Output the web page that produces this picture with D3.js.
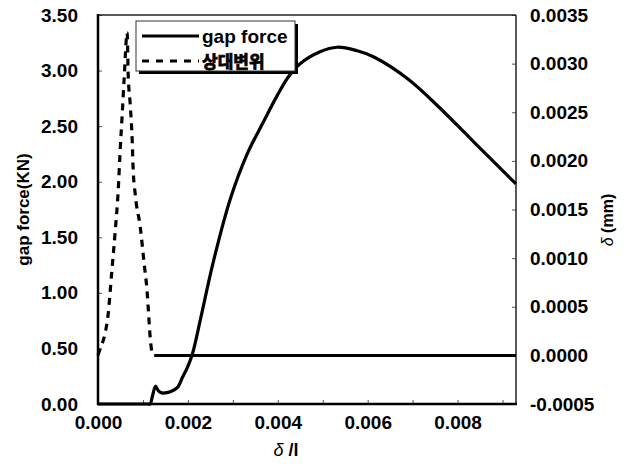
<!DOCTYPE html>
<html>
<head>
<meta charset="utf-8">
<script src="https://cdn.jsdelivr.net/npm/d3@7/dist/d3.min.js"></script>
<style>
  body { margin: 0; background: #fff; }
  text { font-family: "Liberation Sans", Arial, sans-serif; font-weight: bold; fill: #000; }
</style>
</head>
<body>
<div id="chart"></div>
<script>
chartWidth = 630;
chartHeight = 464;
margin = {left: 98, right: 114, top: 15, bottom: 60};

// gap force (left axis, KN)
gapX = [0, 0.0005, 0.00110, 0.00116, 0.00121, 0.00128, 0.00134, 0.00142, 0.00150, 0.00161, 0.00177, 0.00188, 0.00199, 0.00210,
        0.00230, 0.00256, 0.00294, 0.00332, 0.00367, 0.00398, 0.00423, 0.00449, 0.00494, 0.00532, 0.00575,
        0.00615, 0.00691, 0.00764, 0.00838, 0.0093];
gapY = [0, 0, 0, 0, 0.07, 0.16, 0.12, 0.10, 0.10, 0.11, 0.15, 0.24, 0.33, 0.45,
        0.80, 1.27, 1.84, 2.25, 2.53, 2.77, 2.94, 3.06, 3.17, 3.21, 3.18,
        3.12, 2.92, 2.65, 2.35, 1.98];

// relative displacement (right axis, mm)
relX = [0, 0.00004, 0.00016, 0.00022, 0.00031, 0.00038, 0.00045, 0.00049, 0.00054, 0.00058, 0.00065,
        0.00067, 0.00072, 0.00076, 0.00078, 0.00083, 0.00094, 0.00103, 0.00109, 0.00112, 0.00116, 0.00121,
        0.00125, 0.0093];
relY = [0, 0.00006, 0.00023, 0.00040, 0.00088, 0.00126, 0.00170, 0.00208, 0.00249, 0.00283, 0.00332,
        0.00291, 0.00256, 0.00222, 0.00194, 0.00165, 0.00132, 0.00093, 0.00067, 0.00047, 0.00019, 0.00002,
        0, 0];

xTicks = [0, 0.002, 0.004, 0.006, 0.008];
xTickLabels = ["0.000", "0.002", "0.004", "0.006", "0.008"];
xMinorTicks = [0.001, 0.002, 0.003, 0.004, 0.005, 0.006, 0.007, 0.008, 0.009];
leftTicks = [0, 0.5, 1, 1.5, 2, 2.5, 3, 3.5];
leftTickLabels = ["0.00", "0.50", "1.00", "1.50", "2.00", "2.50", "3.00", "3.50"];
rightTicks = [-0.0005, 0, 0.0005, 0.001, 0.0015, 0.002, 0.0025, 0.003, 0.0035];
rightTickLabels = ["-0.0005", "0.0000", "0.0005", "0.0010", "0.0015", "0.0020", "0.0025", "0.0030", "0.0035"];
seriesNames = ["gap force", "상대변위"];

var svg = d3.select("#chart").append("svg")
    .attr("width", chartWidth)
    .attr("height", chartHeight);

var x0 = margin.left, x1 = chartWidth - margin.right;
var y0 = chartHeight - margin.bottom, y1 = margin.top;

var xScale = d3.scaleLinear().domain([0, 0.0093]).range([x0, x1]);
var yLeft = d3.scaleLinear().domain([0, 3.5]).range([y0, y1]);
var yRight = d3.scaleLinear().domain([-0.0005, 0.0035]).range([y0, y1]);

// axes
var xAxis = d3.axisBottom(xScale)
    .tickValues(xTicks)
    .tickFormat(function(d, i) { return xTickLabels[i]; })
    .tickSize(0)
    .tickPadding(12);
var xMinor = d3.axisTop(xScale).tickValues(xMinorTicks).tickSize(4).tickFormat("");
var leftAxis = d3.axisLeft(yLeft)
    .tickValues(leftTicks)
    .tickFormat(function(d, i) { return leftTickLabels[i]; })
    .tickSizeInner(-4).tickSizeOuter(0)
    .tickPadding(20);
var rightAxis = d3.axisRight(yRight)
    .tickValues(rightTicks)
    .tickFormat(function(d, i) { return rightTickLabels[i]; })
    .tickSizeInner(-4).tickSizeOuter(0)
    .tickPadding(14);

var gx = svg.append("g").attr("transform", "translate(0," + y0 + ")").call(xAxis);
var gxm = svg.append("g").attr("transform", "translate(0," + y0 + ")").call(xMinor);
var gl = svg.append("g").attr("transform", "translate(" + x0 + ",0)").call(leftAxis);
var gr = svg.append("g").attr("transform", "translate(" + x1 + ",0)").call(rightAxis);

[gx, gxm, gl, gr].forEach(function(g) {
    g.select(".domain").remove();
    g.selectAll(".tick line").attr("stroke", "#555").attr("stroke-width", 1);
    g.selectAll(".tick text").style("font-size", "19px").style("font-family", "Liberation Sans, Arial, sans-serif")
        .style("font-weight", "bold").attr("fill", "#000");
});
gx.selectAll(".tick text").attr("dy", "0.71em");

// frame
svg.append("line").attr("x1", x0).attr("x2", x1).attr("y1", y1).attr("y2", y1)
    .attr("stroke", "#222").attr("stroke-width", 1.5);
svg.append("line").attr("x1", x1).attr("x2", x1).attr("y1", y1).attr("y2", y0)
    .attr("stroke", "#222").attr("stroke-width", 1.5);

// series
var gapData = gapX.map(function(d, i) { return [d, gapY[i]]; });
var relData = relX.map(function(d, i) { return [d, relY[i]]; });
var cut = relY.indexOf(0, 1);
var relPeak = relData.slice(0, cut + 1);
var relTail = relData.slice(cut);

var gapLine = d3.line()
    .x(function(d) { return xScale(d[0]); })
    .y(function(d) { return yLeft(d[1]); })
    .curve(d3.curveCatmullRom.alpha(0.5));
var relLine = d3.line()
    .x(function(d) { return xScale(d[0]); })
    .y(function(d) { return yRight(d[1]); })
    .curve(d3.curveMonotoneX);

svg.append("path").datum(relPeak).attr("d", relLine)
    .attr("fill", "none").attr("stroke", "#000").attr("stroke-width", 3.2)
    .attr("stroke-dasharray", "7,6");
svg.append("path").datum(relTail).attr("d", relLine)
    .attr("fill", "none").attr("stroke", "#000").attr("stroke-width", 3);
svg.append("path").datum(gapData).attr("d", gapLine)
    .attr("fill", "none").attr("stroke", "#000").attr("stroke-width", 3.2);

// left and bottom axis lines drawn over the curves
svg.append("line").attr("x1", x0).attr("x2", x0).attr("y1", y1 - 1).attr("y2", y0 + 1)
    .attr("stroke", "#000").attr("stroke-width", 2.5);
svg.append("line").attr("x1", x0 - 1).attr("x2", x1 + 1).attr("y1", y0).attr("y2", y0)
    .attr("stroke", "#000").attr("stroke-width", 2.5);

// legend
var legend = svg.append("g").attr("transform", "translate(136,21)");
legend.append("rect").attr("x", 3).attr("y", 3).attr("width", 159).attr("height", 50).attr("fill", "#000");
legend.append("rect").attr("x", 0).attr("y", 0).attr("width", 159).attr("height", 50)
    .attr("fill", "#fff").attr("stroke", "#333").attr("stroke-width", 1);
legend.append("line").attr("x1", 6).attr("x2", 63).attr("y1", 15).attr("y2", 15)
    .attr("stroke", "#000").attr("stroke-width", 3);
legend.append("line").attr("x1", 6).attr("x2", 63).attr("y1", 40).attr("y2", 40)
    .attr("stroke", "#000").attr("stroke-width", 3).attr("stroke-dasharray", "7,7");
legend.append("text").attr("x", 66).attr("y", 22).style("font-size", "19px").text(seriesNames[0]);
legend.append("text").attr("x", 66).attr("y", 47)
    .style("font-family", "'Noto Sans CJK KR', sans-serif").style("font-size", "17px")
    .style("font-weight", "bold")
    .attr("stroke", "#000").attr("stroke-width", 0.8)
    .text(seriesNames[1]);

// axis titles
svg.append("text")
    .attr("transform", "translate(29," + ((y0 + y1) / 2) + ") rotate(-90)")
    .attr("text-anchor", "middle").style("font-size", "17px")
    .text("gap force(KN)");
svg.append("text")
    .attr("transform", "translate(613,220) rotate(-90)")
    .attr("text-anchor", "middle").style("font-size", "16px")
    .html("<tspan style='font-style:italic;font-weight:normal'>δ</tspan> (mm)");
svg.append("text")
    .attr("x", 286).attr("y", 456)
    .attr("text-anchor", "middle").style("font-size", "18px")
    .html("<tspan style='font-style:italic;font-weight:normal'>δ</tspan> /l");
</script>
</body>
</html>
